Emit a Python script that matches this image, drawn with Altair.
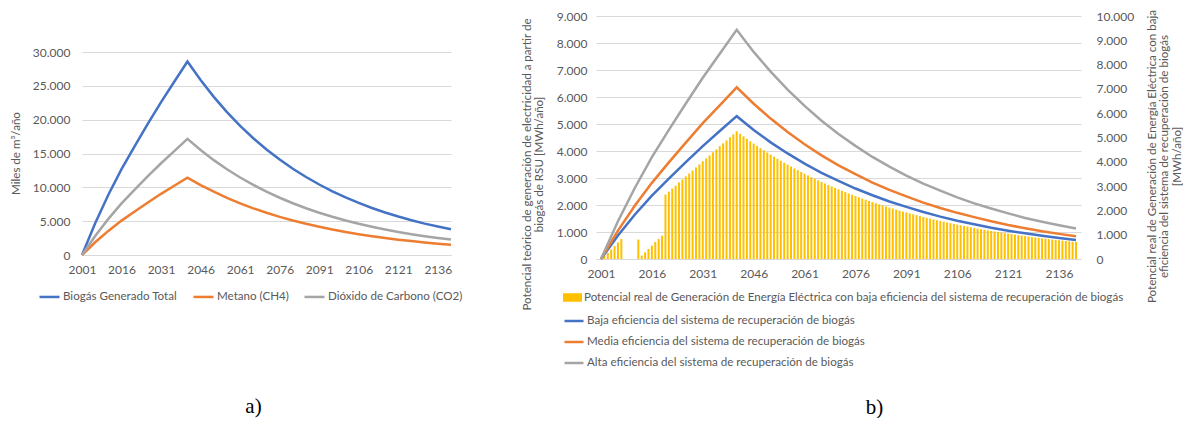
import altair as alt
import pandas as pd

FONT = "Lato"
TXT = "#595959"
GRID = "#D9D9D9"
FS = 12      # tick labels
FL = 11.6    # legends and axis titles

# ---------------- data ----------------
years5 = list(range(2001, 2142, 5))          # 2001 .. 2141 every 5 years
years1 = list(range(2001, 2142))             # 2001 .. 2141 every year
xticks = [2001, 2016, 2031, 2046, 2061, 2076, 2091, 2106, 2121, 2136]

names_a = ["Biogás Generado Total", "Metano (CH4)", "Dióxido de Carbono (CO2)"]
colors_a = ["#4472C4", "#ED7D31", "#A5A5A5"]
biogas = [0, 4700, 8900, 12700, 16100, 19400, 22600, 25600, 28600, 25850, 23370, 21120,
          19090, 17260, 15600, 14100, 12750, 11520, 10420, 9410, 8510, 7690, 6950, 6290,
          5680, 5140, 4640, 4200, 3800]
metano = [0, 1880, 3560, 5080, 6440, 7760, 9040, 10240, 11440, 10340, 9350, 8450,
          7640, 6900, 6240, 5640, 5100, 4610, 4170, 3760, 3400, 3080, 2780, 2520,
          2270, 2060, 1860, 1680, 1520]
co2 = [0, 2820, 5340, 7620, 9660, 11640, 13560, 15360, 17160, 15510, 14020, 12670,
       11450, 10360, 9360, 8460, 7650, 6910, 6250, 5650, 5110, 4610, 4170, 3770,
       3410, 3080, 2780, 2520, 2280]

bar_name = ("Potencial real de Generación de Energía Eléctrica con baja eficiencia "
            "del sistema de recuperación de biogás")
names_b = ["Baja eficiencia del sistema de recuperación de biogás",
           "Media eficiencia del sistema de recuperación de biogás",
           "Alta eficiencia del sistema de recuperación de biogás"]
colors_b = ["#4472C4", "#ED7D31", "#A5A5A5"]
baja = [0, 870, 1650, 2350, 2980, 3590, 4180, 4740, 5290, 4780, 4320, 3910, 3530,
        3190, 2890, 2610, 2360, 2130, 1930, 1740, 1570, 1420, 1290, 1160, 1050, 950,
        860, 780, 700]
media = [0, 1050, 1980, 2820, 3580, 4310, 5030, 5690, 6360, 5750, 5200, 4700, 4250,
         3840, 3470, 3140, 2830, 2560, 2320, 2090, 1890, 1710, 1550, 1400, 1260, 1140,
         1030, 930, 840]
alta = [0, 1400, 2640, 3770, 4780, 5760, 6710, 7600, 8490, 7670, 6940, 6270, 5670,
        5120, 4630, 4190, 3780, 3420, 3090, 2790, 2530, 2280, 2060, 1870, 1690, 1520,
        1380, 1250, 1130]

potencial_real = [
    0, 120, 250, 390, 530, 680, 820, 0, 0, 0, 0,                       # 2001-2011
    800, 140, 275, 410, 550, 700, 820, 960,                              # 2012-2019
    2650, 2770, 2900, 3020, 3150, 3270, 3400, 3520, 3640, 3770, 3890,    # 2020-2030
    4020, 4140, 4260, 4390, 4510, 4640, 4760, 4880, 5010, 5130, 5255,    # 2031-2041
    5150, 5047, 4946, 4847, 4750, 4655, 4562, 4471, 4381, 4294,
    4208, 4124, 4041, 3960, 3881, 3804, 3728, 3653, 3580, 3508,
    3438, 3369, 3302, 3236, 3171, 3108, 3046, 2985, 2925, 2867,
    2809, 2753, 2698, 2644, 2591, 2539, 2489, 2439, 2390, 2342,
    2295, 2249, 2204, 2160, 2117, 2075, 2033, 1993, 1953, 1914,
    1876, 1838, 1801, 1765, 1730, 1695, 1661, 1628, 1596, 1564,
    1533, 1502, 1472, 1443, 1414, 1385, 1358, 1331, 1304, 1278,
    1252, 1227, 1203, 1179, 1155, 1132, 1109, 1087, 1065, 1044,
    1023, 1003, 983, 963, 944, 925, 906, 888, 870, 853,
    836, 819, 803, 787, 771, 756, 741, 726, 711, 697,
]

left_ticks_a = [0, 5000, 10000, 15000, 20000, 25000, 30000]
left_ticks_b = [0, 1000, 2000, 3000, 4000, 5000, 6000, 7000, 8000, 9000]
right_ticks_b = [0, 1000, 2000, 3000, 4000, 5000, 6000, 7000, 8000, 9000, 10000]

# ---------------- tables ----------------
dfa = pd.DataFrame({
    "year": years5 * 3,
    "value": biogas + metano + co2,
    "serie": [names_a[0]] * len(years5) + [names_a[1]] * len(years5) + [names_a[2]] * len(years5),
})
dfb_lines = pd.DataFrame({
    "year": years5 * 3,
    "value": baja + media + alta,
    "serie": [names_b[0]] * len(years5) + [names_b[1]] * len(years5) + [names_b[2]] * len(years5),
})
dfb_bars = pd.DataFrame({"year": years1, "value": potencial_real, "serie": [bar_name] * len(years1)})

FMT = "replace(format(datum.value, ','), ',', '.')"


def x_axis():
    return alt.Axis(values=xticks, format="d", title=None, grid=False, ticks=False,
                    domain=True, domainColor=GRID, domainWidth=1, labelPadding=9,
                    labelFont=FONT, labelFontSize=FS, labelColor=TXT, labelFlush=False,
                    labelOverlap=False)


x_scale = alt.Scale(domain=[2001, 2141], nice=False, zero=False)

# ---------------- panel a ----------------
# view is 239 px tall; the value range occupies its lower 203 px
lines_a = alt.Chart(dfa).mark_line(strokeWidth=2.5).encode(
    x=alt.X("year:Q", scale=x_scale, axis=x_axis()),
    y=alt.Y("value:Q", scale=alt.Scale(domain=[0, 30000], nice=False, range=[239, 36]),
            axis=alt.Axis(values=left_ticks_a, labelExpr=FMT, grid=True, gridColor=GRID,
                          domain=False, ticks=False, labelPadding=12, labelFont=FONT,
                          labelFontSize=FS, labelColor=TXT,
                          title="Miles de m³/año", titleFont=FONT, titleFontSize=FL,
                          titleFontWeight="normal", titleColor=TXT, titleAngle=270,
                          titleX=-66, titleY=137, titleAlign="center",
                          titleBaseline="middle")),
    color=alt.Color("serie:N", sort=names_a,
                    scale=alt.Scale(domain=names_a, range=colors_a),
                    legend=alt.Legend(orient="none", legendX=-44, legendY=269,
                                      direction="horizontal", title=None,
                                      symbolType="stroke", symbolSize=400,
                                      symbolStrokeWidth=2.5, labelFont=FONT,
                                      labelFontSize=FL, labelColor=TXT, labelOffset=2,
                                      columnPadding=10, padding=0, labelLimit=0)),
)

panel_a = lines_a.properties(
    width=369, height=239,
    title=alt.Title("a)", orient="bottom", anchor="middle", frame="group",
                    font="Liberation Serif", fontSize=21, fontWeight="normal",
                    color="black", offset=93, dx=-13),
)

# ---------------- panel b ----------------
bars_b = alt.Chart(dfb_bars).mark_bar(size=2).encode(
    x=alt.X("year:Q", scale=x_scale, axis=x_axis()),
    y=alt.Y("value:Q", scale=alt.Scale(domain=[0, 10000], nice=False),
            axis=alt.Axis(orient="right", values=right_ticks_b, labelExpr=FMT, grid=False,
                          domain=False, ticks=False, labelPadding=15, labelFont=FONT,
                          labelFontSize=FS, labelColor=TXT,
                          title=["Potencial real de Generación de Energía Eléctrica con baja",
                                 "eficiencia del sistema de recuperación de biogás",
                                 "[MWh/año]"],
                          titleFont=FONT, titleFontSize=FL, titleFontWeight="normal",
                          titleColor=TXT, titleAngle=270, titleX=71, titleY=140,
                          titleAlign="center", titleBaseline="middle",
                          titleLineHeight=12.5)),
    fill=alt.Fill("serie:N", scale=alt.Scale(domain=[bar_name], range=["#FFC000"]),
                  legend=alt.Legend(orient="none", legendX=-33, legendY=272, title=None,
                                    symbolType="M-1,-0.45H1V0.45H-1Z", symbolSize=361,
                                    symbolStrokeWidth=0, labelFont=FONT, labelFontSize=FL,
                                    labelColor=TXT, labelOffset=2, padding=0,
                                    labelLimit=0)),
)
lines_b = alt.Chart(dfb_lines).mark_line(strokeWidth=2.5).encode(
    x=alt.X("year:Q", scale=x_scale, axis=x_axis()),
    y=alt.Y("value:Q", scale=alt.Scale(domain=[0, 9000], nice=False),
            axis=alt.Axis(orient="left", values=left_ticks_b, labelExpr=FMT, grid=True,
                          gridColor=GRID, domain=False, ticks=False, labelPadding=9,
                          labelFont=FONT, labelFontSize=FS, labelColor=TXT,
                          title=["Potencial teórico de generación de electricidad a partir de",
                                 "biogás de RSU [MWh/año]"],
                          titleFont=FONT, titleFontSize=FL, titleFontWeight="normal",
                          titleColor=TXT, titleAngle=270, titleX=-69, titleY=148,
                          titleAlign="center", titleBaseline="middle",
                          titleLineHeight=12)),
    stroke=alt.Stroke("serie:N", sort=names_b,
                      scale=alt.Scale(domain=names_b, range=colors_b),
                      legend=alt.Legend(orient="none", legendX=-33, legendY=294, title=None,
                                        symbolType="stroke", symbolSize=361,
                                        symbolStrokeWidth=2.5, labelFont=FONT,
                                        labelFontSize=FL, labelColor=TXT, labelOffset=2,
                                        rowPadding=4, padding=0, labelLimit=0)),
)

panel_b = alt.layer(bars_b, lines_b).resolve_scale(y="independent").properties(
    width=485, height=243,
    title=alt.Title("b)", orient="bottom", anchor="middle", frame="group",
                    font="Liberation Serif", fontSize=21, fontWeight="normal",
                    color="black", offset=28, dx=36),
)

chart = alt.concat(panel_a, panel_b, columns=2, align="none", spacing=58).resolve_scale(
    color="independent", fill="independent", stroke="independent"
).properties(
    padding={"left": 10, "top": 9, "right": 0, "bottom": 0},
    background="white",
).configure_view(stroke=None)

chart.save("out.html", embed_options={"renderer": "svg", "actions": False})
